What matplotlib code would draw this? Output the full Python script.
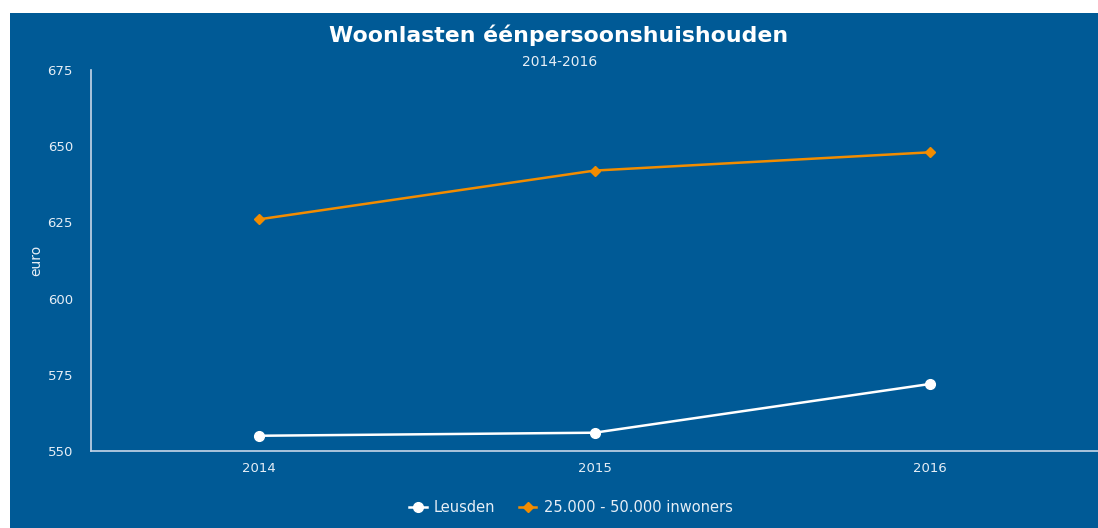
import matplotlib
matplotlib.use("Agg")
import matplotlib.pyplot as plt
from matplotlib.patches import Rectangle

# data
years = ["2014", "2015", "2016"]
leusden = [555, 556, 572]
inwoners = [626, 642, 648]
y_ticks = [550, 575, 600, 625, 650, 675]

bg = "#005a96"
txt = "#e6eef6"

plt.rcParams["font.family"] = ["DejaVu Sans"]

fig = plt.figure(figsize=(10.98, 5.28), dpi=100, facecolor="white")
# blue panel, offset from the top-left corner like the reference
fig.patches.append(Rectangle((10 / 1098, 0), 1, 1 - 13 / 528,
                             transform=fig.transFigure, facecolor=bg,
                             edgecolor="none", zorder=-1))

ax = fig.add_axes([91 / 1098, 77 / 528, 1 - 91 / 1098, 381 / 528])
ax.set_facecolor(bg)

x = range(len(years))
ax.plot(x, leusden, color="white", lw=1.8, marker="o", ms=7,
        label="Leusden", clip_on=False)
ax.plot(x, inwoners, color="#f28c00", lw=1.8, marker="D", ms=5.5,
        label="25.000 - 50.000 inwoners", clip_on=False)

ax.set_xlim(-0.5, 2.5)
ax.set_ylim(550, 675)
ax.set_xticks(list(x))
ax.set_xticklabels(years)
ax.set_yticks(y_ticks)
ax.tick_params(length=0, colors=txt, labelsize=9.5)
ax.tick_params(axis="x", pad=8)
ax.tick_params(axis="y", pad=13)

for s in ["top", "right"]:
    ax.spines[s].set_visible(False)
for s in ["left", "bottom"]:
    ax.spines[s].set_color("#c8d6e8")
    ax.spines[s].set_linewidth(1.2)

ax.set_ylabel("euro", color=txt, fontsize=10, labelpad=3)

fig.text(0.509, 1 - 35 / 528, "Woonlasten éénpersoonshuishouden",
         ha="center", va="center", color="white", fontsize=15.8,
         fontweight="bold")
fig.text(0.51, 1 - 62 / 528, "2014-2016", ha="center", va="center",
         color=txt, fontsize=10)

leg = fig.legend(loc="center", bbox_to_anchor=(0.52, 1 - 508 / 528),
                 ncol=2, frameon=False, fontsize=10.5, handlelength=1.2,
                 columnspacing=1.6, handletextpad=0.5)
for t in leg.get_texts():
    t.set_color(txt)

fig.savefig("out.png", dpi=100, facecolor=fig.get_facecolor())
